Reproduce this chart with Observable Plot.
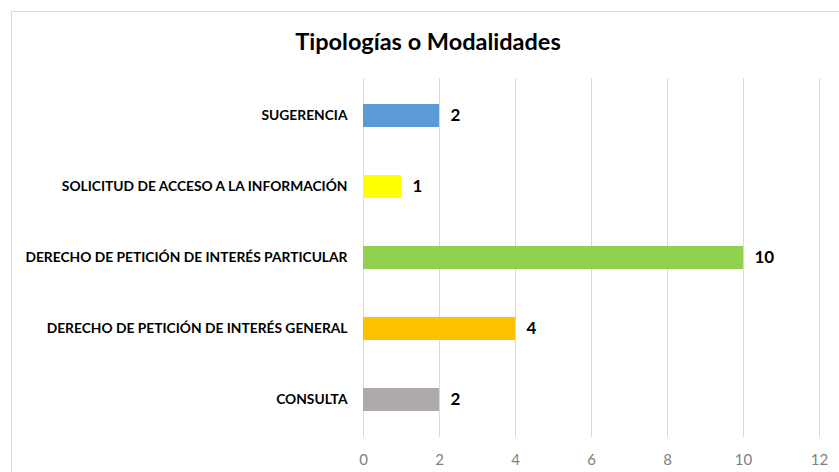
<!DOCTYPE html>
<html>
<head>
<meta charset="utf-8">
<script src="https://cdn.jsdelivr.net/npm/d3@7"></script>
<script src="https://cdn.jsdelivr.net/npm/@observablehq/plot@0.6"></script>
<style>
  html, body { margin: 0; padding: 0; background: #fff; overflow: hidden; }
  #wrap { position: relative; width: 839px; height: 472px; overflow: hidden; }
  #frame { position: absolute; left: 11px; top: 11px; width: 900px; height: 520px; border: 1px solid #d9d9d9; box-sizing: border-box; }
  #title { position: absolute; left: 0; width: 856px; top: 27px; text-align: center; font-family: Lato, sans-serif; font-weight: bold; font-size: 23.5px; color: #000; }
  #chart { position: absolute; left: 0; top: 0; }
</style>
</head>
<body>
<div id="wrap">
  <div id="frame"></div>
  <div id="title">Tipologías o Modalidades</div>
  <div id="chart"></div>
</div>
<script>
const categories = [
  "SUGERENCIA",
  "SOLICITUD DE ACCESO A LA INFORMACIÓN",
  "DERECHO DE PETICIÓN DE INTERÉS PARTICULAR",
  "DERECHO DE PETICIÓN DE INTERÉS GENERAL",
  "CONSULTA"
];
const values = [2, 1, 10, 4, 2];
const colors = ["#5B9BD5", "#FFFF00", "#92D050", "#FFC000", "#AEAAAA"];
const xTicks = [0, 2, 4, 6, 8, 10, 12];

const data = categories.map((c, i) => ({category: c, value: values[i], color: colors[i]}));

const chart = Plot.plot({
  width: 839,
  height: 472,
  marginLeft: 363,
  marginRight: 20,
  marginTop: 78,
  marginBottom: 35,
  style: {background: "transparent", overflow: "visible"},
  x: {domain: [0, 12], ticks: xTicks, label: null},
  y: {domain: categories, label: null, paddingInner: 0.68, paddingOuter: 0.34},
  marks: [
    Plot.gridX(xTicks, {stroke: "#d9d9d9", strokeOpacity: 1, strokeWidth: 1}),
    Plot.barX(data, {x: "value", y: "category", fill: "color"}),
    Plot.text(data, {x: "value", y: "category", text: d => String(d.value), textAnchor: "start", dx: 11,
      fontFamily: "Lato, sans-serif", fontWeight: "bold", fontSize: 17, fill: "#000"}),
    Plot.axisX({ticks: xTicks, tickSize: 0, tickPadding: 17, fontFamily: "Lato, sans-serif", fontSize: 15, color: "#7f7f7f", label: null}),
    Plot.axisY({tickSize: 0, tickPadding: 16, fontFamily: "Lato, sans-serif", fontWeight: "bold", fontSize: 13.8, color: "#000", label: null})
  ]
});
document.getElementById("chart").appendChild(chart);
</script>
</body>
</html>
